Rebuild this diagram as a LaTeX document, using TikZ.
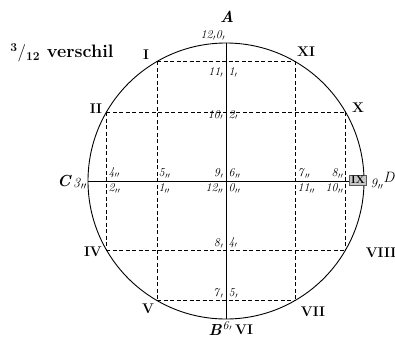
\documentclass[tikz,border=0pt]{standalone}
\usetikzlibrary{calc}
\newcommand{\nI}[1]{\textit{#1}$_{\prime}$}
\newcommand{\nII}[1]{\textit{#1}$_{\prime\prime}$}

\begin{document}
\begin{tikzpicture}[
  x=1pt,y=1pt,
  rim/.style={line width=0.9pt},
  diam/.style={line width=0.8pt},
  guide/.style={dash pattern=on 4pt off 2.5pt,line width=0.6pt},
  roman/.style={font=\fontsize{14}{14}\selectfont\bfseries,inner sep=0pt},
  pole/.style={font=\fontsize{16}{16}\selectfont\bfseries\itshape,inner sep=0pt},
  num/.style={font=\fontsize{12}{12}\selectfont,inner sep=0.5pt}
]
\useasboundingbox (0,0) rectangle (395,341);

% circle and the twelve hour points
\coordinate (o) at (226,160);
\foreach \a/\n in {90/p12,120/p1,150/p2,180/p3,210/p4,240/p5,270/p6,300/p7,330/p8,0/p9,30/p10,60/p11}
  \coordinate (\n) at ($(o)+(\a:138)$);
\draw[rim] (o) circle (138);

% diameters
\draw[diam] (p12) -- (p6);
\draw[diam] (p3) -- (p9);

% dashed rectangles
\draw[guide] (p1) -- (p11);
\draw[guide] (p2) -- (p10);
\draw[guide] (p4) -- (p8);
\draw[guide] (p5) -- (p7);
\draw[guide] (p1) -- (p5);
\draw[guide] (p11) -- (p7);
\draw[guide] (p2) -- (p4);
\draw[guide] (p10) -- (p8);

\node[font=\fontsize{18}{18}\selectfont\bfseries,inner sep=0pt] (tit) at (62,288) {$^{\mathbf{3}}/_{\mathbf{12}}$ verschil};

% poles
\node[pole] (lA) at (227,324) {A};
\node[pole] (lC) at (64,160) {C};
\node[num,font=\fontsize{14}{14}\selectfont] (lC3) at (80,157) {\nII{3}};
\node[pole,font=\fontsize{15}{15}\selectfont\itshape] (lD) at (389,164) {D};
\node[pole,anchor=east] (lB) at (222,11) {B};
\node[num,anchor=west] (lB6) at (222,15) {\nI{6}};
\node[roman,anchor=west] (lVI) at (235,11) {VI};

% roman numerals
\node[roman] (lI) at (146,286) {I};
\node[roman] (lXI) at (306,289) {XI};
\node[roman] (lII) at (96,232) {II};
\node[roman] (lX) at (358,233) {X};
\node[roman] (lIV) at (93,89) {IV};
\node[roman] (lVIII) at (381,88) {VIII};
\node[roman] (lV) at (148,32) {V};
\node[roman] (lVII) at (313,29) {VII};
\node[roman,font=\fontsize{11}{11}\selectfont\bfseries,fill=gray!45,draw=gray!70!black,inner sep=1.5pt] (lIX) at (358,161) {IX};
\node[num,font=\fontsize{13}{13}\selectfont] (n9r) at (377,157) {\nII{9}};

% numbers on the vertical diameter
\node[num,anchor=south east] (ntop) at (226,300) {\nI{12}\nI{0}};
\node[num,anchor=north east] (n11a) at (224,274) {\nI{11}};
\node[num,anchor=north west] (n1a) at (228,274) {\nI{1}};
\node[num,anchor=east] (n10a) at (224,226) {\nI{10}};
\node[num,anchor=west] (n2a) at (228,226) {\nI{2}};
\node[num,anchor=south east] (n8a) at (224,92) {\nI{8}};
\node[num,anchor=south west] (n4a) at (228,92) {\nI{4}};
\node[num,anchor=south east] (n7a) at (224,42) {\nI{7}};
\node[num,anchor=south west] (n5a) at (228,42) {\nI{5}};

% numbers on the horizontal diameter
\node[num,anchor=south west] (n4b) at (108,162) {\nII{4}};
\node[num,anchor=north west] (n2b) at (108,158) {\nII{2}};
\node[num,anchor=south west] (n5b) at (158,162) {\nII{5}};
\node[num,anchor=north west] (n1b) at (158,158) {\nII{1}};
\node[num,anchor=south east] (n9b) at (224,162) {\nI{9}};
\node[num,anchor=south west] (n6b) at (228,162) {\nII{6}};
\node[num,anchor=north east] (n12b) at (224,158) {\nII{12}};
\node[num,anchor=north west] (n0b) at (228,158) {\nII{0}};
\node[num,anchor=south west] (n7b) at (297,162) {\nII{7}};
\node[num,anchor=north west] (n11b) at (297,158) {\nII{11}};
\node[num,anchor=south east] (n8b) at (344,162) {\nII{8}};
\node[num,anchor=north east] (n10b) at (344,158) {\nII{10}};
\end{tikzpicture}
\end{document}
